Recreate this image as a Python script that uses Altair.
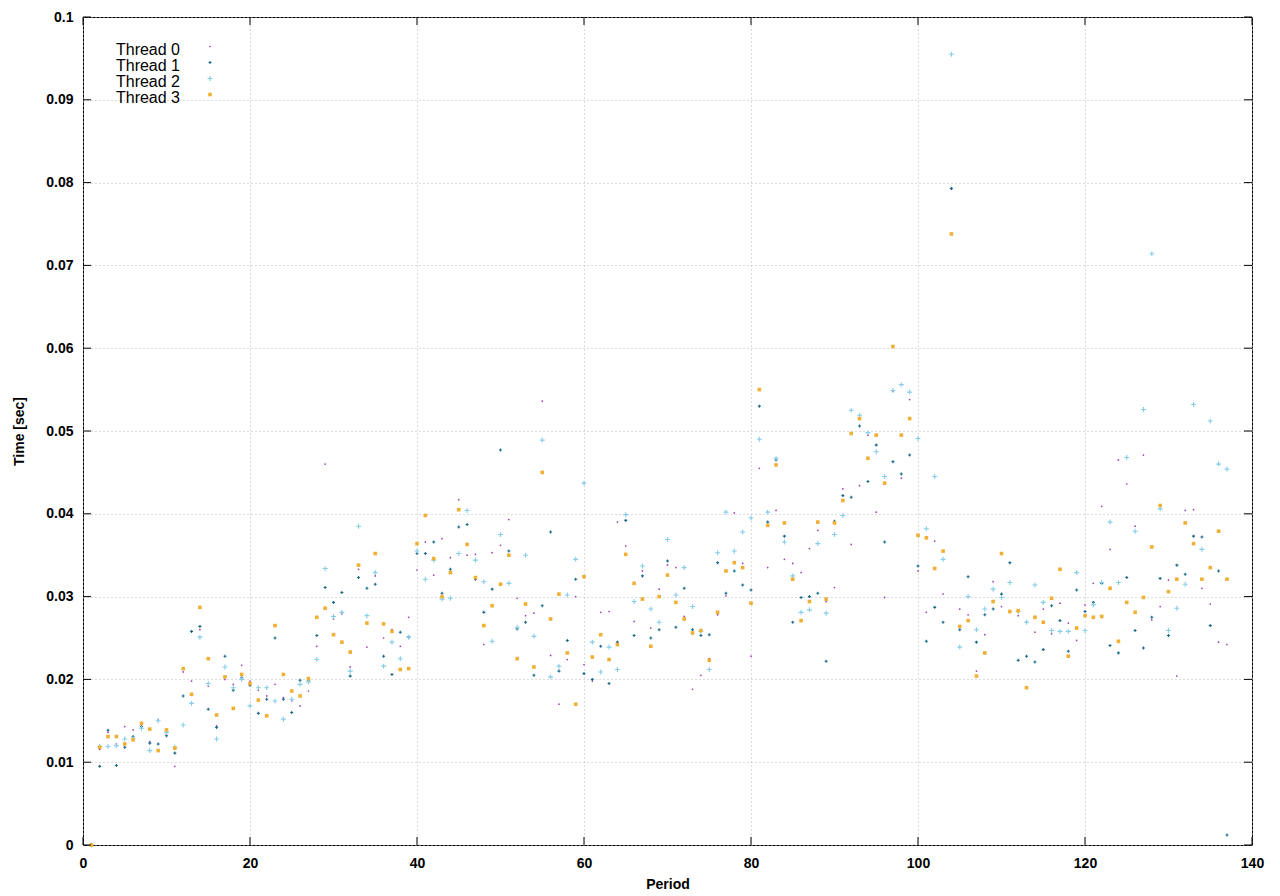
import altair as alt
import pandas as pd

# ---- data (values in milliseconds) ----
periods = list(range(1, 138))

thread0 = [0, 11.56, 13.6, 12.2, 14.3, 13.9, 14.5, 12.5, 15.1, 13.4,
           9.5, 20.9, 19.8, 26.0, 19.2, 14.4, 20.0, 19.4, 21.7, 19.8,
           18.7, 18.0, 19.4, 17.8, 17.4, 16.8, 18.6, 24.0, 46.0, 27.3,
           27.9, 21.5, 33.3, 23.9, 32.5, 25.0, 26.0, 24.0, 27.5, 33.2,
           36.6, 32.6, 37.0, 34.7, 41.7, 35.0, 35.1, 24.2, 35.3, 36.2,
           39.3, 29.8, 27.7, 28.0, 53.6, 22.9, 17.0, 22.4, 30.0, 21.8,
           19.8, 28.1, 28.2, 39.0, 36.1, 27.0, 33.1, 26.2, 30.9, 33.8,
           33.5, 27.6, 18.8, 20.5, 22.5, 27.8, 30.1, 40.1, 34.0, 22.8,
           45.5, 33.5, 40.4, 34.5, 34.0, 32.9, 35.8, 38.0, 29.4, 31.1,
           43.0, 36.3, 43.4, 49.5, 40.2, 29.9, 54.8, 44.3, 53.8, 33.1,
           28.1, 36.7, 30.3, 79.2, 28.5, 27.8, 21.0, 25.4, 31.8, 28.8,
           28.1, 27.7, 27.0, 25.7, 28.5, 25.5, 29.2, 26.8, 24.7, 29.0,
           31.6, 40.9, 35.7, 46.5, 43.6, 38.5, 47.1, 27.2, 28.8, 32.0,
           20.4, 40.4, 40.5, 31.0, 29.1, 24.5, 24.2]

thread1 = [0, 9.5, 13.85, 9.6, 11.8, 13.1, 14.3, 12.3, 12.2, 13.2,
           11.1, 18.0, 25.8, 26.4, 16.4, 14.2, 22.8, 18.7, 20.2, 19.3,
           15.9, 17.6, 25.0, 17.6, 16.0, 19.9, 19.9, 25.3, 31.1, 29.3,
           30.5, 20.4, 32.3, 31.0, 31.5, 22.8, 20.6, 25.7, 25.1, 35.2,
           35.2, 36.6, 30.4, 33.3, 38.4, 38.7, 32.1, 28.1, 30.9, 47.7,
           35.5, 26.1, 26.9, 20.5, 28.9, 37.8, 21.0, 24.7, 32.1, 20.7,
           20.0, 24.0, 19.5, 24.5, 39.2, 25.3, 32.5, 25.0, 26.0, 34.3,
           26.3, 31.0, 26.0, 25.3, 25.4, 34.1, 30.4, 33.1, 31.4, 30.8,
           53.0, 39.0, 46.5, 37.3, 26.9, 29.9, 30.0, 30.4, 22.2, 39.1,
           42.2, 42.0, 50.6, 43.9, 48.3, 36.6, 46.3, 44.8, 47.1, 33.7,
           24.6, 28.7, 26.9, 79.3, 26.0, 32.4, 24.5, 27.8, 28.5, 30.3,
           34.1, 22.3, 22.8, 22.1, 23.6, 28.9, 27.1, 23.4, 30.8, 28.2,
           29.3, 31.6, 24.1, 23.2, 32.3, 25.9, 23.8, 27.5, 32.2, 25.3,
           33.8, 32.7, 37.3, 37.2, 26.5, 33.1, 1.2]

thread2 = [0, 11.9, 11.9, 12.0, 12.8, 12.9, 14.1, 11.4, 15.0, 13.6,
           11.8, 14.5, 17.1, 25.1, 19.5, 12.8, 21.5, 19.0, 20.0, 16.8,
           19.0, 19.0, 17.4, 15.2, 17.6, 19.4, 19.7, 22.4, 33.4, 27.6,
           28.1, 21.0, 38.5, 27.7, 32.9, 21.6, 24.5, 22.5, 25.1, 35.5,
           32.1, 34.4, 29.7, 29.8, 35.2, 40.4, 34.4, 31.8, 24.6, 37.5,
           31.6, 26.3, 35.0, 25.2, 48.9, 20.3, 21.6, 30.2, 34.5, 43.7,
           24.5, 20.9, 23.9, 21.2, 39.9, 29.4, 33.7, 28.5, 26.9, 36.9,
           30.2, 33.5, 28.8, 25.8, 21.2, 35.3, 40.2, 35.5, 37.8, 39.5,
           49.0, 40.2, 46.7, 36.6, 32.5, 28.1, 28.4, 36.4, 28.0, 37.5,
           39.8, 52.5, 51.9, 49.8, 47.5, 44.5, 54.9, 55.6, 54.7, 49.1,
           38.2, 44.5, 34.5, 95.5, 23.9, 30.0, 26.0, 28.5, 30.9, 29.9,
           31.7, 28.2, 26.9, 31.4, 29.3, 25.9, 25.8, 25.8, 32.9, 25.9,
           29.0, 31.7, 39.0, 31.7, 46.8, 37.9, 52.6, 71.4, 40.6, 25.9,
           28.6, 31.5, 53.2, 35.7, 51.2, 46.0, 45.4]

thread3 = [0, 11.8, 13.1, 13.1, 12.2, 12.7, 14.7, 14.0, 11.4, 13.9,
           11.7, 21.3, 18.2, 28.7, 22.5, 15.7, 20.3, 16.5, 20.6, 19.5,
           17.5, 15.6, 26.5, 20.6, 18.6, 18.0, 20.1, 27.5, 28.6, 25.4,
           24.5, 23.3, 33.8, 26.8, 35.2, 26.7, 25.8, 21.2, 21.3, 36.4,
           39.8, 34.6, 30.0, 32.9, 40.5, 36.3, 32.3, 26.5, 28.9, 31.5,
           35.0, 22.5, 29.1, 21.5, 45.0, 27.3, 30.3, 23.2, 17.0, 32.4,
           22.7, 25.4, 22.4, 24.2, 35.1, 31.6, 29.7, 24.0, 30.0, 32.6,
           29.3, 27.3, 25.6, 25.9, 22.3, 28.1, 33.1, 34.1, 33.5, 29.2,
           55.0, 38.6, 45.9, 38.9, 32.1, 27.1, 29.4, 39.0, 29.7, 38.9,
           41.6, 49.7, 51.5, 46.7, 49.5, 43.7, 60.2, 49.5, 51.5, 37.4,
           37.1, 33.4, 35.5, 73.8, 26.4, 27.1, 20.4, 23.2, 29.4, 35.2,
           28.2, 28.3, 19.0, 27.5, 26.9, 29.8, 33.3, 22.8, 26.2, 27.7,
           27.5, 27.6, 31.0, 24.6, 29.3, 28.1, 29.9, 36.0, 41.0, 30.6,
           32.1, 38.9, 36.4, 32.1, 33.5, 37.9, 32.1]

names = ["Thread 0", "Thread 1", "Thread 2", "Thread 3"]
series = [thread0, thread1, thread2, thread3]
x_ticks = [0, 20, 40, 60, 80, 100, 120, 140]
y_ticks = [0, 0.01, 0.02, 0.03, 0.04, 0.05, 0.06, 0.07, 0.08, 0.09, 0.1]

# ---- style ----
colors = ["#9a3fb3", "#1b6a88", "#86cde8", "#efb035"]
PLUS = "M-1,0L1,0M0,-1L0,1"
styles = [
    dict(shape="circle", filled=True, size=3, strokeWidth=0),
    dict(shape=PLUS, filled=False, size=9, strokeWidth=1.1),
    dict(shape=PLUS, filled=False, size=25, strokeWidth=1.1),
    dict(shape="square", filled=True, size=13, strokeWidth=0),
]

W, H = 1169, 828
FONT = "Liberation Sans"

xs = alt.Scale(domain=[0, 140], nice=False, zero=False)
ys = alt.Scale(domain=[0, 0.1], nice=False, zero=False)

x_axis = alt.Axis(values=x_ticks, title="Period", grid=True, ticks=False, tickSize=0,
                  domain=False, labelFlush=False, labelOverlap=False,
                  labelFont=FONT, labelFontSize=14, labelFontWeight="bold",
                  labelColor="black", labelPadding=11,
                  titleFont=FONT, titleFontSize=14, titleFontWeight="bold",
                  titleColor="black", titlePadding=7,
                  gridColor="#b8b8b8", gridDash=[1, 3], gridWidth=1)
y_axis = alt.Axis(values=y_ticks, format="~g", title="Time [sec]", grid=True,
                  ticks=False, tickSize=0, domain=False, labelFlush=False,
                  labelOverlap=False,
                  labelFont=FONT, labelFontSize=14, labelFontWeight="bold",
                  labelColor="black", labelPadding=10,
                  titleFont=FONT, titleFontSize=14, titleFontWeight="bold",
                  titleColor="black", titlePadding=19,
                  gridColor="#b8b8b8", gridDash=[1, 3], gridWidth=1)

X = lambda f: alt.X(f + ":Q", scale=xs, axis=x_axis)
Y = lambda f: alt.Y(f + ":Q", scale=ys, axis=y_axis)

layers = []
for i, (name, vals) in enumerate(zip(names, series)):
    df = pd.DataFrame({"period": periods,
                       "time": [v / 1000.0 for v in vals],
                       "thread": name})
    st = styles[i]
    ch = alt.Chart(df).mark_point(
        shape=st["shape"], filled=st["filled"], size=st["size"],
        strokeWidth=st["strokeWidth"], opacity=1, color=colors[i]
    ).encode(x=X("period"), y=Y("time"))
    layers.append(ch)

# inward tick marks on all four sides
yt = pd.DataFrame({"time": y_ticks})
xt = pd.DataFrame({"period": x_ticks})
TL = 8
layers.append(alt.Chart(yt).mark_rule(color="black", strokeWidth=1).encode(
    y=Y("time"), x=alt.value(0), x2=alt.value(TL)))
layers.append(alt.Chart(yt).mark_rule(color="black", strokeWidth=1).encode(
    y=Y("time"), x=alt.value(W - TL), x2=alt.value(W)))
layers.append(alt.Chart(xt).mark_rule(color="black", strokeWidth=1).encode(
    x=X("period"), y=alt.value(H - TL), y2=alt.value(H)))
layers.append(alt.Chart(xt).mark_rule(color="black", strokeWidth=1).encode(
    x=X("period"), y=alt.value(0), y2=alt.value(TL)))

# key (top-left, text then sample as in the original)
for i, name in enumerate(names):
    sy = 29.5 + 16 * i
    kd = pd.DataFrame({"label": [name]})
    layers.append(alt.Chart(kd).mark_text(
        align="right", baseline="middle", font=FONT, fontSize=16, color="black"
    ).encode(text="label:N", x=alt.value(97), y=alt.value(sy + 3)))
    st = styles[i]
    layers.append(alt.Chart(kd).mark_point(
        shape=st["shape"], filled=st["filled"], size=st["size"],
        strokeWidth=st["strokeWidth"], opacity=1, color=colors[i]
    ).encode(x=alt.value(127), y=alt.value(sy)))

chart = alt.layer(*layers).properties(
    width=W, height=H,
    autosize=alt.AutoSizeParams(type="none"),
    padding={"left": 75, "top": 9, "right": 20, "bottom": 45},
    background="white",
).configure_view(stroke="black", strokeWidth=1)

chart.save("out.html", embed_options={"renderer": "svg", "actions": False})
